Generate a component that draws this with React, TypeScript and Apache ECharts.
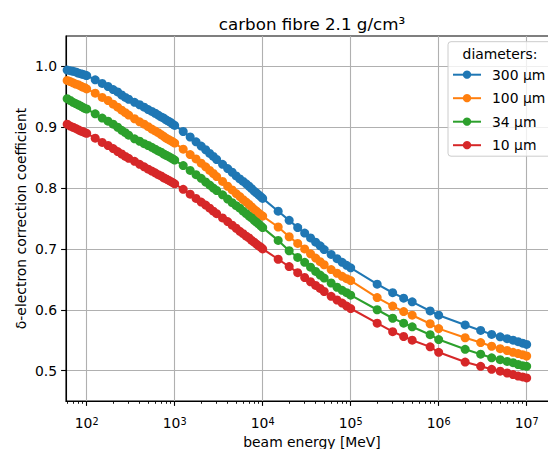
import React, { useEffect, useRef } from "react";
import * as echarts from "echarts";

const FONT = "DejaVu Sans";

// beam energies [MeV]
const energies = [
  55, 60, 65, 70, 75, 80, 85, 90, 95, 100,
  125, 150, 175, 200, 225, 250, 275, 300,
  350, 400, 450, 500, 550, 600, 650, 700, 750, 800, 850, 900, 950, 1000,
  1250, 1500, 1750, 2000, 2250, 2500, 2750, 3000,
  3500, 4000, 4500, 5000, 5500, 6000, 6500, 7000, 7500, 8000, 8500, 9000, 9500, 10000,
  15000, 20000, 25000, 30000, 35000, 40000, 45000, 50000, 60000, 70000, 80000, 90000, 100000,
  2e5, 3e5, 4e5, 5e5, 8e5, 1e6, 2e6, 3e6, 4e6, 5e6, 6e6, 7e6, 8e6, 9e6, 1e7,
];

const d300 = [
  0.995, 0.994, 0.993, 0.992, 0.991, 0.989, 0.988, 0.987, 0.986, 0.985,
  0.978, 0.972, 0.967, 0.962, 0.958, 0.953, 0.949, 0.946,
  0.941, 0.937, 0.933, 0.929, 0.926, 0.923, 0.92, 0.917, 0.915, 0.912, 0.91, 0.908, 0.905, 0.903,
  0.893, 0.884, 0.876, 0.869, 0.863, 0.857, 0.852, 0.847,
  0.839, 0.832, 0.826, 0.82, 0.815, 0.811, 0.807, 0.803, 0.799, 0.795, 0.792, 0.789, 0.786, 0.783,
  0.762, 0.747, 0.735, 0.726, 0.718, 0.711, 0.705, 0.699, 0.691, 0.684, 0.678, 0.673, 0.669,
  0.642, 0.628, 0.619, 0.613, 0.598, 0.591, 0.575, 0.566, 0.5595, 0.5555, 0.5525, 0.55, 0.5475, 0.545, 0.543,
];

const d100 = [
  0.979, 0.977, 0.975, 0.973, 0.971, 0.97, 0.968, 0.966, 0.965, 0.963,
  0.956, 0.949, 0.944, 0.938, 0.933, 0.928, 0.924, 0.92,
  0.914, 0.909, 0.905, 0.901, 0.897, 0.894, 0.891, 0.888, 0.885, 0.882, 0.88, 0.878, 0.876, 0.874,
  0.864, 0.855, 0.848, 0.841, 0.835, 0.829, 0.824, 0.819,
  0.811, 0.803, 0.797, 0.791, 0.786, 0.781, 0.777, 0.773, 0.769, 0.765, 0.762, 0.759, 0.756, 0.754,
  0.736, 0.72, 0.709, 0.7, 0.692, 0.685, 0.679, 0.674, 0.666, 0.66, 0.655, 0.651, 0.648,
  0.62, 0.606, 0.597, 0.591, 0.577, 0.569, 0.554, 0.546, 0.54, 0.536, 0.533, 0.53, 0.528, 0.526, 0.524,
];

const d34 = [
  0.95, 0.947, 0.944, 0.941, 0.939, 0.937, 0.935, 0.933, 0.931, 0.93,
  0.922, 0.915, 0.91, 0.905, 0.9, 0.895, 0.891, 0.887,
  0.881, 0.877, 0.873, 0.87, 0.867, 0.864, 0.861, 0.859, 0.856, 0.854, 0.852, 0.85, 0.848, 0.846,
  0.837, 0.829, 0.822, 0.816, 0.81, 0.805, 0.8, 0.796,
  0.789, 0.782, 0.776, 0.771, 0.767, 0.762, 0.758, 0.754, 0.751, 0.747, 0.744, 0.741, 0.738, 0.735,
  0.714, 0.697, 0.686, 0.678, 0.67, 0.663, 0.657, 0.652, 0.644, 0.637, 0.632, 0.628, 0.624,
  0.6, 0.586, 0.578, 0.572, 0.559, 0.551, 0.535, 0.527, 0.521, 0.518, 0.515, 0.513, 0.51, 0.508, 0.507,
];

const d10 = [
  0.908, 0.905, 0.902, 0.9, 0.898, 0.896, 0.894, 0.893, 0.891, 0.89,
  0.882, 0.875, 0.87, 0.865, 0.86, 0.856, 0.852, 0.849,
  0.844, 0.839, 0.835, 0.831, 0.828, 0.825, 0.822, 0.82, 0.817, 0.815, 0.813, 0.811, 0.809, 0.807,
  0.798, 0.79, 0.783, 0.777, 0.772, 0.767, 0.762, 0.758,
  0.751, 0.745, 0.739, 0.734, 0.729, 0.725, 0.721, 0.718, 0.714, 0.711, 0.708, 0.705, 0.703, 0.7,
  0.683, 0.671, 0.661, 0.653, 0.646, 0.64, 0.635, 0.63, 0.622, 0.616, 0.611, 0.606, 0.602,
  0.578, 0.564, 0.556, 0.55, 0.539, 0.53, 0.514, 0.507, 0.502, 0.499, 0.496, 0.4935, 0.491, 0.4895, 0.488,
];

const seriesNames = ["300 μm", "100 μm", "34 μm", "10 μm"];
const seriesValues = [d300, d100, d34, d10];
const colors = ["#1f77b4", "#ff7f0e", "#2ca02c", "#d62728"];

const titleText = "carbon fibre 2.1 g/cm³";
const legendTitle = "diameters:";
const xName = "beam energy [MeV]";
const yName = "δ-electron correction coefficient";

const yTicks = [0.5, 0.6, 0.7, 0.8, 0.9, 1.0];
const xMajorTicks = [1e2, 1e3, 1e4, 1e5, 1e6, 1e7];
const xMinorMultipliers = [2, 3, 4, 5, 6, 7, 8, 9];
const xMinorDecades = [1e1, 1e2, 1e3, 1e4, 1e5, 1e6, 1e7];

const X_MIN = 58.2;
const X_MAX = 2.27e7;
const Y_MIN = 0.45;
const Y_MAX = 1.05;

export default function App() {
  const ref = useRef<HTMLDivElement>(null);

  useEffect(() => {
    if (!ref.current) return;
    const chart = echarts.init(ref.current, undefined, { renderer: "svg" });

    const xMinorTicks: number[] = [];
    xMinorDecades.forEach((d) =>
      xMinorMultipliers.forEach((m) => {
        const v = d * m;
        if (v > X_MIN && v < X_MAX) xMinorTicks.push(v);
      })
    );

    const axisColor = "#000";
    const option: any = {
      animation: false,
      textStyle: { fontFamily: FONT },
      grid: {
        left: 66,
        top: 36,
        width: 492,
        height: 365,
        show: true,
        borderColor: axisColor,
        borderWidth: 1.1,
        backgroundColor: "transparent",
        containLabel: false,
        outerBoundsMode: "none",
      },
      xAxis: [
        {
          type: "log",
          logBase: 10,
          min: X_MIN,
          max: X_MAX,
          position: "bottom",
          name: xName,
          nameLocation: "middle",
          nameGap: 34,
          nameMoveOverlap: false,
          nameTextStyle: { fontSize: 13.9, color: "#000", fontFamily: FONT },
          axisLine: { show: true, lineStyle: { color: axisColor, width: 1.1 } },
          axisTick: {
            show: true,
            inside: false,
            length: 4.9,
            lineStyle: { color: axisColor, width: 1.1 },
            customValues: xMajorTicks,
          },
          axisLabel: {
            customValues: xMajorTicks,
            margin: 15,
            color: "#000",
            formatter: (v: number) =>
              "{b|10}{s|" + Math.round(Math.log10(v)) + "}",
            rich: {
              b: {
                fontSize: 13.9,
                fontFamily: FONT,
                color: "#000",
                lineHeight: 14,
                verticalAlign: "bottom",
              },
              s: {
                fontSize: 9.7,
                fontFamily: FONT,
                color: "#000",
                lineHeight: 10,
                padding: [0, 0, 6, 0],
                verticalAlign: "top",
              },
            },
          },
          splitLine: { show: true, lineStyle: { color: "#b0b0b0", width: 1.1 } },
          minorTick: { show: false },
          minorSplitLine: { show: false },
        },
        {
          type: "log",
          logBase: 10,
          min: X_MIN,
          max: X_MAX,
          position: "bottom",
          axisLine: { show: true, lineStyle: { color: axisColor, width: 1.1, opacity: 0 } },
          axisLabel: { show: false },
          splitLine: { show: false },
          axisTick: {
            show: true,
            inside: false,
            length: 2.8,
            lineStyle: { color: axisColor, width: 0.9 },
            customValues: xMinorTicks,
          },
        },
      ],
      yAxis: {
        type: "value",
        min: Y_MIN,
        max: Y_MAX,
        name: yName,
        nameLocation: "middle",
        nameGap: 38,
        nameMoveOverlap: false,
        nameTextStyle: { fontSize: 13.9, color: "#000", fontFamily: FONT },
        axisLine: { show: true, lineStyle: { color: axisColor, width: 1.1 } },
        axisTick: {
          show: true,
          inside: false,
          length: 4.9,
          lineStyle: { color: axisColor, width: 1.1 },
          customValues: yTicks,
        },
        axisLabel: {
          customValues: yTicks,
          margin: 9,
          fontSize: 13.9,
          color: "#000",
          fontFamily: FONT,
          formatter: (v: number) => v.toFixed(1),
        },
        splitLine: { show: true, lineStyle: { color: "#b0b0b0", width: 1.1 } },
      },
      legend: {
        data: seriesNames,
        orient: "vertical",
        left: 448,
        top: 41.7,
        itemWidth: 28,
        itemHeight: 10.4,
        itemGap: 9.5,
        padding: [26, 7, 4, 4],
        backgroundColor: "rgba(255,255,255,0.8)",
        borderColor: "#cccccc",
        borderWidth: 1,
        borderRadius: 3,
        selectedMode: false,
        textStyle: {
          fontSize: 13.9,
          color: "#000",
          fontFamily: FONT,
          padding: [0, 0, 0, 6],
        },
      },
      graphic: [
        {
          type: "text",
          x: 312,
          y: 24,
          z: 100,
          style: {
            text: titleText,
            fontSize: 16.7,
            fontFamily: FONT,
            fill: "#000",
            textAlign: "center",
            textVerticalAlign: "middle",
          },
        },
        {
          type: "text",
          x: 500,
          y: 54,
          z: 100,
          style: {
            text: legendTitle,
            fontSize: 13.9,
            fontFamily: FONT,
            fill: "#000",
            textAlign: "center",
            textVerticalAlign: "middle",
          },
        },
      ],
      series: seriesNames.map((name, k) => ({
        name,
        type: "line",
        xAxisIndex: 0,
        yAxisIndex: 0,
        data: energies.map((e, i) => [e, seriesValues[k][i]]),
        symbol: "circle",
        symbolSize: 9,
        showSymbol: true,
        clip: true,
        color: colors[k],
        itemStyle: { color: colors[k] },
        lineStyle: { color: colors[k], width: 2.08 },
        emphasis: { disabled: true },
        z: 2 + k,
      })),
    };

    chart.setOption(option);
    return () => chart.dispose();
  }, []);

  return (
    <div
      style={{
        position: "fixed",
        left: 0,
        top: 0,
        width: 548,
        height: 449,
        overflow: "hidden",
        background: "#fff",
      }}
    >
      <div ref={ref} style={{ width: 570, height: 449 }} />
    </div>
  );
}
